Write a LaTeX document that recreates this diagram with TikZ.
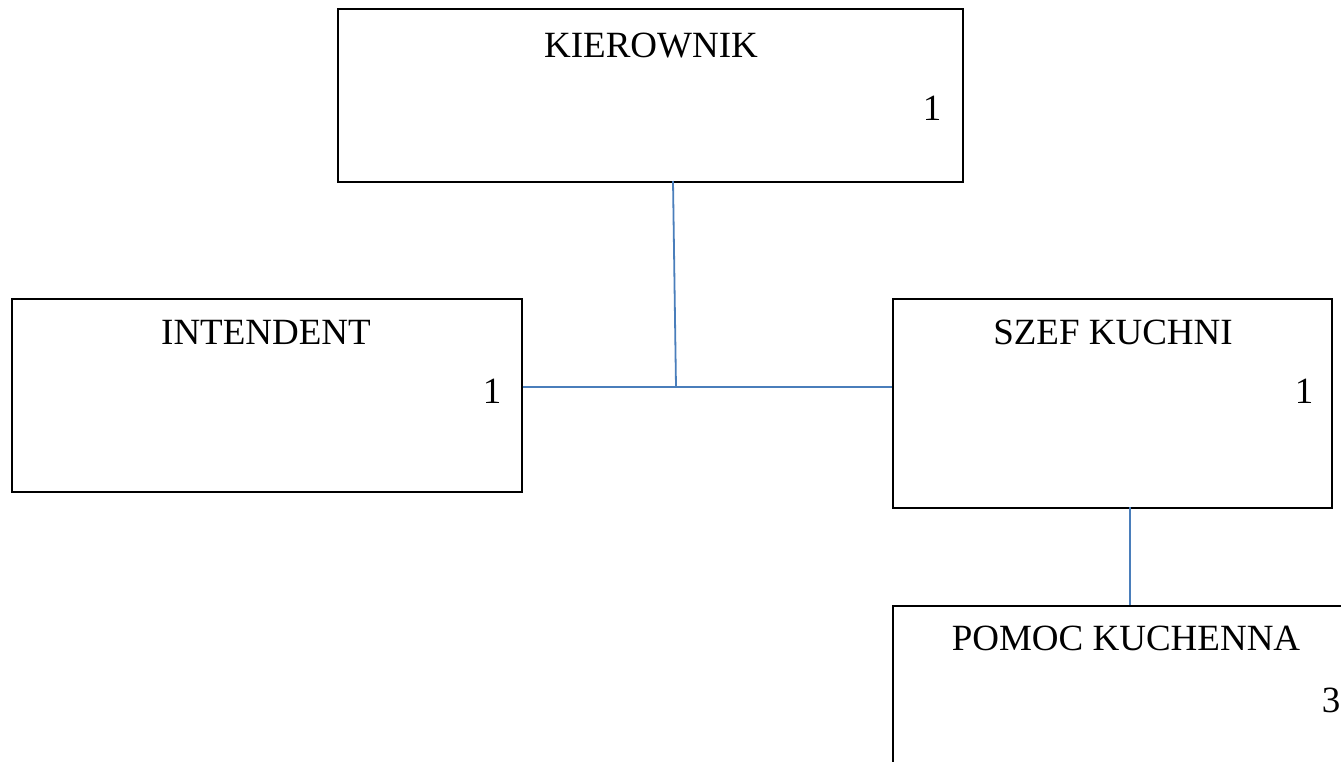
\documentclass[tikz,border=0pt]{standalone}
\usepackage{fontspec}
\setmainfont{Liberation Serif}
\usepackage{xcolor}
\definecolor{linkblue}{HTML}{4A7EBB}

\begin{document}
\begin{tikzpicture}[x=1pt, y=-1pt,
    box/.style={draw=black, line width=1.6pt, anchor=north west, inner sep=0pt},
    label/.style={anchor=base, inner sep=0pt, font=\fontsize{37}{44}\selectfont},
    link/.style={draw=linkblue, line width=1.8pt}]
    % Frame
    \useasboundingbox (0,0) rectangle (1341,761);
    % Boxes
    \node[box, minimum width=625pt, minimum height=173pt] (kier) at (337,8) {};
    \node[box, minimum width=510pt, minimum height=193pt] (int) at (11,298) {};
    \node[box, minimum width=439pt, minimum height=209pt] (szef) at (892,298) {};
    \node[box, minimum width=500pt, minimum height=250pt] (pomoc) at (892,605) {};
    % Titles
    \node[label] (kiert) at (651,57) {KIEROWNIK};
    \node[label] (intt) at (266,344) {INTENDENT};
    \node[label] (szeft) at (1113,344) {SZEF KUCHNI};
    \node[label] (pomoct) at (1126,650) {POMOC KUCHENNA};
    % Counts
    \node[label] (kiern) at (932,120) {1};
    \node[label] (intn) at (492,403) {1};
    \node[label] (szefn) at (1304,403) {1};
    \node[label] (pomocn) at (1331,712) {3};
    % Connectors
    \coordinate (kb) at (673,181);
    \coordinate (j) at (676,387);
    \coordinate (sb) at (1130,507);
    \draw[link] (kb) -- (j);
    \draw[link] (int.east |- j) -- (szef.west |- j);
    \draw[link] (sb) -- (sb |- pomoc.north);
\end{tikzpicture}
\end{document}
